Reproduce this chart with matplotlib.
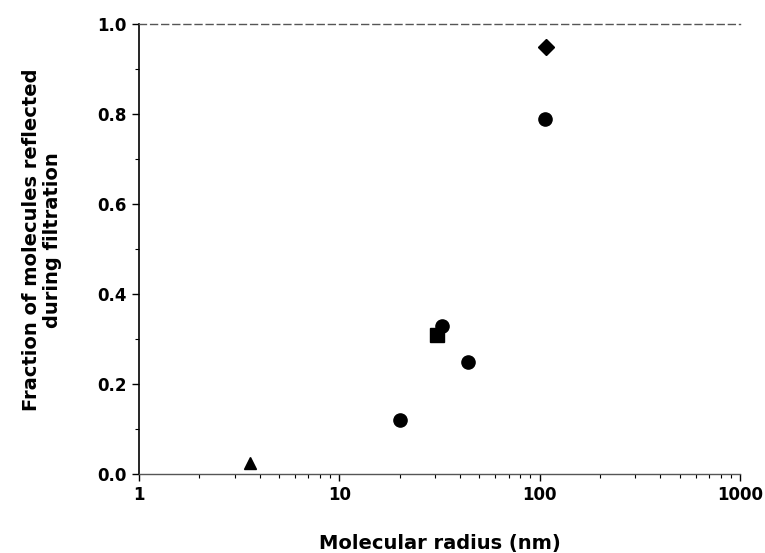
import matplotlib
matplotlib.use("Agg")
import matplotlib.pyplot as plt
from matplotlib.ticker import FixedLocator, NullFormatter, LogLocator

plt.rcParams['font.family'] = ['DejaVu Sans']

# data
circle_x = [20, 32.7, 43.7, 106]
circle_y = [0.12, 0.33, 0.25, 0.79]
square_x = [30.9]
square_y = [0.31]
triangle_x = [3.6]
triangle_y = [0.025]
diamond_x = [107]
diamond_y = [0.95]

x_ticks = [1, 10, 100, 1000]
x_ticklabels = ["1", "10", "100", "1000"]
y_ticks = [0.0, 0.2, 0.4, 0.6, 0.8, 1.0]
y_ticklabels = ["0.0", "0.2", "0.4", "0.6", "0.8", "1.0"]

fig = plt.figure(figsize=(7.65, 5.53), dpi=100)
ax = fig.add_axes([139/765, 1 - 474/553, (740-139)/765, (474-24)/553])

ax.plot(circle_x, circle_y, 'o', color='black', markersize=9.5, clip_on=False)
ax.plot(square_x, square_y, 's', color='black', markersize=9.5, clip_on=False)
ax.plot(triangle_x, triangle_y, '^', color='black', markersize=9, clip_on=False)
ax.plot(diamond_x, diamond_y, 'D', color='black', markersize=8.5, clip_on=False)

ax.set_xscale('log')
ax.set_xlim(1, 1000)
ax.set_ylim(0, 1.0)

ax.set_xticks(x_ticks)
ax.set_xticklabels(x_ticklabels)
ax.xaxis.set_minor_locator(LogLocator(base=10, subs=range(2, 10)))
ax.xaxis.set_minor_formatter(NullFormatter())
ax.set_yticks(y_ticks)
ax.set_yticklabels(y_ticklabels)
ax.yaxis.set_minor_locator(FixedLocator([0.1, 0.3, 0.5, 0.7, 0.9]))

for lab in ax.get_xticklabels() + ax.get_yticklabels():
    lab.set_fontweight('bold')
    lab.set_fontsize(12)

ax.tick_params(axis='both', which='major', direction='out', length=5, width=1, color='black', pad=4)
ax.tick_params(axis='both', which='minor', direction='out', length=3, width=0.8, color='black')

ax.spines['right'].set_visible(False)
ax.spines['top'].set_linestyle((0, (5, 3)))
ax.spines['top'].set_color('#555555')
ax.spines['top'].set_linewidth(1)
ax.spines['bottom'].set_linestyle((0, (1, 1)))
ax.spines['bottom'].set_color('#555555')
ax.spines['bottom'].set_linewidth(1)
ax.spines['left'].set_color('black')
ax.spines['left'].set_linewidth(1.2)

ax.set_xlabel("Molecular radius (nm)", fontsize=14, fontweight='bold', labelpad=21)
ax.set_ylabel("Fraction of molecules reflected\nduring filtration", fontsize=14,
              fontweight='bold', linespacing=1.15)
ax.yaxis.set_label_coords(-(139 - 62) / 601, (474 - 240) / 450)

fig.savefig("out.png", dpi=100)
